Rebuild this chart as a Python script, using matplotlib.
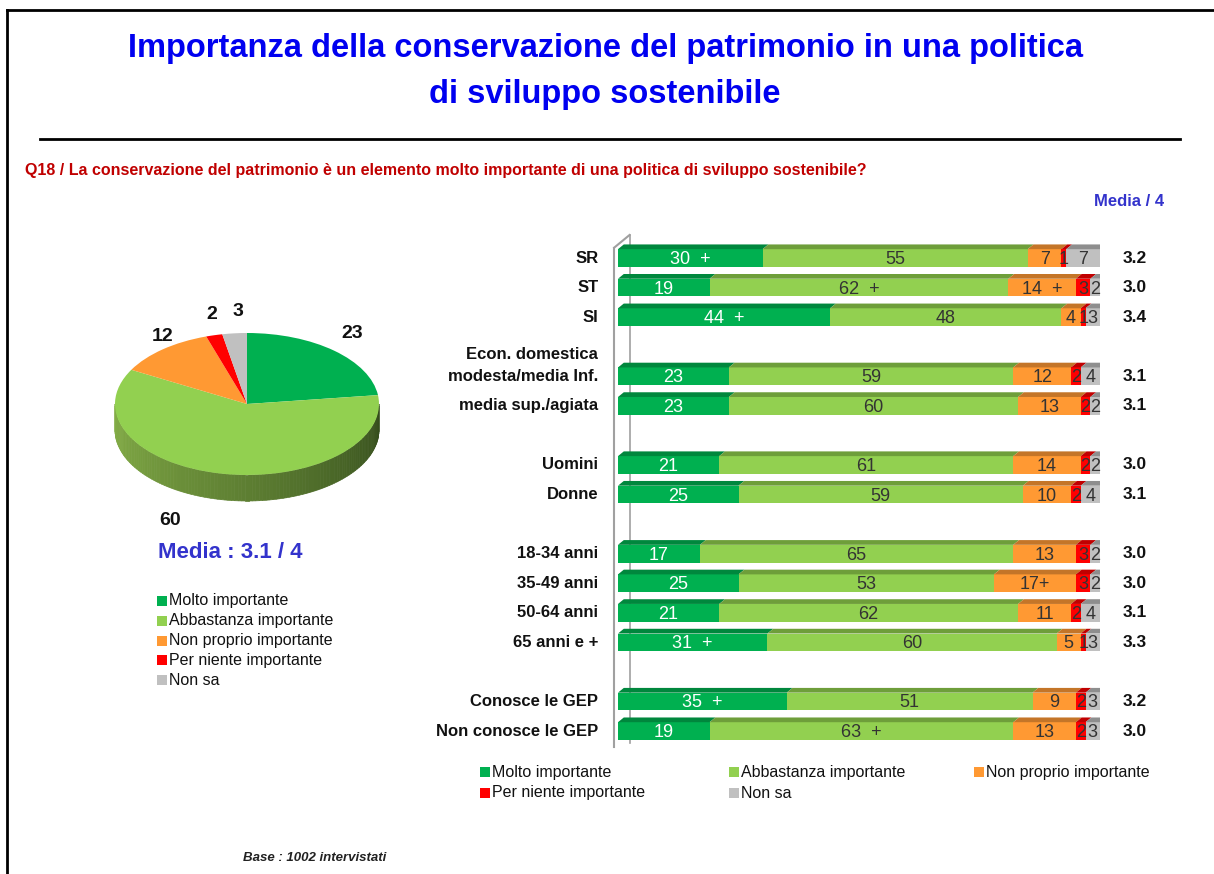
import matplotlib
matplotlib.use("Agg")
import matplotlib.pyplot as plt
from matplotlib.patches import Polygon, Rectangle
from matplotlib.lines import Line2D
import numpy as np

plt.rcParams['font.family'] = ['Liberation Sans Narrow', 'Liberation Sans', 'DejaVu Sans']

# data
categories = ["SR", "ST", "SI", "modesta/media Inf.", "media sup./agiata",
              "Uomini", "Donne", "18-34 anni", "35-49 anni", "50-64 anni",
              "65 anni e +", "Conosce le GEP", "Non conosce le GEP"]
molto = [30, 19, 44, 23, 23, 21, 25, 17, 25, 21, 31, 35, 19]
abbastanza = [55, 62, 48, 59, 60, 61, 59, 65, 53, 62, 60, 51, 63]
non_proprio = [7, 14, 4, 12, 13, 14, 10, 13, 17, 11, 5, 9, 13]
per_niente = [1, 3, 1, 2, 2, 2, 2, 3, 3, 2, 1, 2, 2]
non_sa = [7, 2, 3, 4, 2, 2, 4, 2, 2, 4, 3, 3, 3]
medie = ["3.2", "3.0", "3.4", "3.1", "3.1", "3.0", "3.1", "3.0", "3.0", "3.1", "3.3", "3.2", "3.0"]
# significance markers (" +") per segment
plus_molto = [True, False, True, False, False, False, False, False, False, False, True, True, False]
plus_abb = [False, True, False, False, False, False, False, False, False, False, False, False, True]
plus_np = [False, True, False, False, False, False, False, False, True, False, False, False, False]

pie_values = [23, 60, 12, 2, 3]
legend_labels = ["Molto importante", "Abbastanza importante", "Non proprio importante",
                 "Per niente importante", "Non sa"]

# styles
colors = ["#00B050", "#92D050", "#FF9933", "#FF0000", "#C0C0C0"]
top_colors = ["#00873D", "#6E9E3A", "#C47528", "#C00000", "#8E8E8E"]
rows = [0, 1, 2, 4, 5, 7, 8, 10, 11, 12, 13, 15, 16]
W, H = 1214, 874


def fx(px):
    return px / W


def fy(py):
    return 1 - py / H


fig = plt.figure(figsize=(W / 100, H / 100), dpi=100)

# frame and rule
fig.add_artist(Line2D([fx(7), fx(7)], [fy(10), fy(874)], color="black", lw=2))
fig.add_artist(Line2D([fx(7), fx(1214)], [fy(10), fy(10)], color="black", lw=2))
fig.add_artist(Line2D([fx(40), fx(1180)], [fy(139), fy(139)], color="black", lw=2))

fig.text(fx(605), fy(48), "Importanza della conservazione del patrimonio in una politica",
         ha="center", va="center", fontsize=23.5, fontweight="bold", color="#0000F0")
fig.text(fx(605), fy(95), "di sviluppo sostenibile",
         ha="center", va="center", fontsize=23.5, fontweight="bold", color="#0000F0")
fig.text(fx(25), fy(170), "Q18 / La conservazione del patrimonio è un elemento molto importante di una politica di sviluppo sostenibile?",
         ha="left", va="center", fontsize=11.5, fontweight="bold", color="#C00000")
fig.text(fx(1164), fy(202), "Media / 4", ha="right", va="center", fontsize=12,
         fontweight="bold", color="#3333CC")

# ---- bar chart ----
ax = fig.add_axes([fx(618), fy(750), fx(1100) - fx(618), (750 - 240) / H])
ax.set_xlim(0, 100)
ax.set_ylim(16.64, -0.61)
ax.axis("off")

series = [molto, abbastanza, non_proprio, per_niente, non_sa]
plus = [plus_molto, plus_abb, plus_np, [False] * 13, [False] * 13]
txt_colors = ["white", "#333333", "#333333", "#333333", "#333333"]
bh = 0.6
th = 0.16
dx = 1.2

# axis wall lines
ax.plot([-0.8, -0.8], [16.55, -0.35], color="#A0A0A0", lw=1.5, clip_on=False)
ax.plot([-0.8, 2.4], [-0.35, -0.78], color="#A0A0A0", lw=1.5, clip_on=False)
ax.plot([2.4, 2.4], [16.4, -0.78], color="#A0A0A0", lw=1.2, clip_on=False, zorder=0)

left = np.zeros(len(categories))
for k, vals in enumerate(series):
    vals = np.array(vals, dtype=float)
    ax.barh(rows, vals, left=left, height=bh, color=colors[k], edgecolor="none", zorder=2)
    for r, l, v in zip(rows, left, vals):
        top = r - bh / 2
        ax.add_patch(Polygon([(l, top), (l + v, top), (l + v + dx, top - th), (l + dx, top - th)],
                             closed=True, facecolor=top_colors[k], edgecolor="none", zorder=2))
    for i, (r, l, v) in enumerate(zip(rows, left, vals)):
        s = "%d" % v
        if plus[k][i]:
            s = s + ("+" if (k == 2 and v >= 15) else "  +")
        ax.text(l + v / 2, r + 0.05, s, ha="center", va="center", fontsize=13,
                color=txt_colors[k], zorder=4)
    left = left + vals

# right end caps
for r, tot in zip(rows, left):
    top = r - bh / 2
    ax.add_patch(Polygon([(tot, top), (tot + dx, top - th), (tot + dx, top - th + bh), (tot, top + bh)],
                         closed=True, facecolor="#9A9A9A", edgecolor="none", zorder=3))

for r, c, m in zip(rows, categories, medie):
    ax.text(-4.1, r, c, ha="right", va="center", fontsize=12, fontweight="bold", color="#111111")
    ax.text(104.8, r, m, ha="left", va="center", fontsize=12.5, fontweight="bold", color="#111111")
ax.text(-4.1, rows[3] - 0.75, "Econ. domestica", ha="right", va="center", fontsize=12,
        fontweight="bold", color="#111111")

# ---- pie ----
cx, cy, rx, ry = 247, 404, 132, 71
pl, pr, pt, pb = 97, 397, 310, 540
pax = fig.add_axes([fx(pl), fy(pb), (pr - pl) / W, (pb - pt) / H])
depth = 26 / ry
side_left = np.array([0x86, 0xB0, 0x48]) / 255
side_right = np.array([0x34, 0x4C, 0x1C]) / 255
th_side = np.linspace(np.pi, 2 * np.pi, 120)
for a1, a2 in zip(th_side[:-1], th_side[1:]):
    t = (a1 - np.pi) / np.pi
    col = side_left * (1 - t) + side_right * t
    pax.add_patch(Polygon([(np.cos(a1), np.sin(a1)), (np.cos(a2), np.sin(a2)),
                           (np.cos(a2), np.sin(a2) - depth), (np.cos(a1), np.sin(a1) - depth)],
                          closed=True, facecolor=col, edgecolor=col, lw=0.5))
pax.pie(pie_values, colors=colors, startangle=90, counterclock=False,
        wedgeprops=dict(edgecolor="none"))
pax.set_aspect("auto")
pax.set_xlim((pl - cx) / rx, (pr - cx) / rx)
pax.set_ylim((cy - pb) / ry, (cy - pt) / ry)
pax.axis("off")

pie_label_pos = [(0.80, 1.0), (-0.58, -1.64), (-0.64, 0.95), (-0.27, 1.26), (-0.07, 1.30)]
for v, (x, y) in zip(pie_values, pie_label_pos):
    pax.text(x, y, str(v), ha="center", va="center", fontsize=14, fontweight="bold",
             color="#111111", clip_on=False)

fig.text(fx(230), fy(552), "Media : 3.1 / 4", ha="center", va="center", fontsize=16,
         fontweight="bold", color="#3333CC")


def legend_item(x, y, color, label):
    fig.add_artist(Rectangle((fx(x), fy(y + 5)), 10 / W, 10 / H, transform=fig.transFigure,
                             facecolor=color, edgecolor="none"))
    fig.text(fx(x + 12), fy(y), label, ha="left", va="center", fontsize=11.5, color="#111111")


for i, (c, lab) in enumerate(zip(colors, legend_labels)):
    legend_item(157, 601 + i * 19.8, c, lab)

bottom_pos = [(480, 772), (729, 772), (974, 772), (480, 793), (729, 793)]
for c, lab, (x, y) in zip(colors, legend_labels, bottom_pos):
    legend_item(x, y, c, lab)

fig.text(fx(243), fy(858), "Base : 1002 intervistati", ha="left", va="center", fontsize=9.5,
         fontweight="bold", fontstyle="italic", color="#222222")

fig.savefig("out.png", dpi=100)
